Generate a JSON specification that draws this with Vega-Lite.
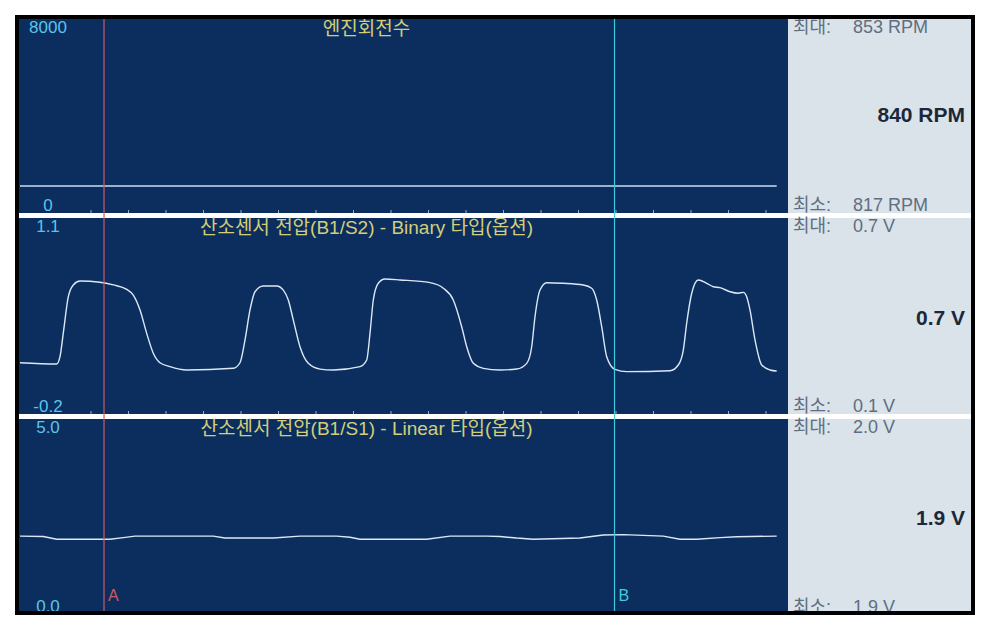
{
  "$schema": "https://vega.github.io/schema/vega-lite/v6.json",
  "width": 952,
  "height": 592,
  "autosize": {"type": "none"},
  "padding": {"left": 19, "top": 19, "right": 20, "bottom": 20},
  "background": "#ffffff",
  "config": {
    "view": {"fill": "#0c2e5e", "stroke": "#000000", "strokeWidth": 8},
    "text": {"font": "'Liberation Sans', 'Noto Sans CJK KR'", "fontSize": 17}
  },
  "datasets": {
    "panels": [
      {"id": "rpm", "top": 8000, "bottom": 0, "topLabel": "8000", "bottomLabel": "0", "title": "엔진회전수", "maxLabel": "최대:", "maxValue": "853 RPM", "minLabel": "최소:", "minValue": "817 RPM", "current": "840 RPM"},
      {"id": "s2", "top": 1.1, "bottom": -0.2, "topLabel": "1.1", "bottomLabel": "-0.2", "title": "산소센서 전압(B1/S2) - Binary 타입(옵션)", "maxLabel": "최대:", "maxValue": "0.7 V", "minLabel": "최소:", "minValue": "0.1 V", "current": "0.7 V"},
      {"id": "s1", "top": 5.0, "bottom": 0.0, "topLabel": "5.0", "bottomLabel": "0.0", "title": "산소센서 전압(B1/S1) - Linear 타입(옵션)", "maxLabel": "최대:", "maxValue": "2.0 V", "minLabel": "최소:", "minValue": "1.9 V", "current": "1.9 V"}
    ],
    "rpm": [
      {"t": -1.893, "rpm": 840}, {"t": 0, "rpm": 841}, {"t": 2, "rpm": 839}, {"t": 4, "rpm": 842},
      {"t": 6, "rpm": 838}, {"t": 8, "rpm": 840}, {"t": 10, "rpm": 843}, {"t": 12, "rpm": 837},
      {"t": 14, "rpm": 840}, {"t": 16, "rpm": 841}, {"t": 18.285, "rpm": 839}
    ],
    "s2": [
      {"t": -1.893, "v": 0.140}, {"t": -0.915, "v": 0.132}, {"t": -0.827, "v": 0.180}, {"t": -0.739, "v": 0.337},
      {"t": -0.605, "v": 0.578}, {"t": -0.472, "v": 0.656}, {"t": -0.293, "v": 0.682}, {"t": 0.240, "v": 0.674},
      {"t": 0.595, "v": 0.656}, {"t": 0.952, "v": 0.627}, {"t": 1.128, "v": 0.589}, {"t": 1.307, "v": 0.490},
      {"t": 1.485, "v": 0.335}, {"t": 1.661, "v": 0.203}, {"t": 1.840, "v": 0.140}, {"t": 2.107, "v": 0.114},
      {"t": 2.552, "v": 0.092}, {"t": 3.795, "v": 0.103}, {"t": 3.973, "v": 0.140}, {"t": 4.107, "v": 0.291},
      {"t": 4.240, "v": 0.490}, {"t": 4.373, "v": 0.611}, {"t": 4.595, "v": 0.649}, {"t": 4.952, "v": 0.649},
      {"t": 5.128, "v": 0.622}, {"t": 5.261, "v": 0.556}, {"t": 5.395, "v": 0.423}, {"t": 5.573, "v": 0.246},
      {"t": 5.795, "v": 0.136}, {"t": 6.107, "v": 0.098}, {"t": 6.461, "v": 0.092}, {"t": 7.173, "v": 0.114},
      {"t": 7.352, "v": 0.158}, {"t": 7.440, "v": 0.335}, {"t": 7.528, "v": 0.556}, {"t": 7.661, "v": 0.667},
      {"t": 7.840, "v": 0.695}, {"t": 8.240, "v": 0.689}, {"t": 9.040, "v": 0.671}, {"t": 9.395, "v": 0.634},
      {"t": 9.661, "v": 0.556}, {"t": 9.885, "v": 0.379}, {"t": 10.019, "v": 0.246}, {"t": 10.195, "v": 0.136},
      {"t": 10.461, "v": 0.103}, {"t": 10.907, "v": 0.092}, {"t": 11.352, "v": 0.098}, {"t": 11.619, "v": 0.136},
      {"t": 11.752, "v": 0.246}, {"t": 11.840, "v": 0.445}, {"t": 11.973, "v": 0.622}, {"t": 12.152, "v": 0.671},
      {"t": 12.595, "v": 0.667}, {"t": 13.128, "v": 0.656}, {"t": 13.352, "v": 0.634}, {"t": 13.485, "v": 0.556},
      {"t": 13.619, "v": 0.379}, {"t": 13.752, "v": 0.180}, {"t": 13.973, "v": 0.096}, {"t": 14.285, "v": 0.081},
      {"t": 15.440, "v": 0.087}, {"t": 15.661, "v": 0.125}, {"t": 15.795, "v": 0.224}, {"t": 15.885, "v": 0.402},
      {"t": 16.019, "v": 0.601}, {"t": 16.195, "v": 0.689}, {"t": 16.419, "v": 0.667}, {"t": 16.595, "v": 0.644},
      {"t": 16.773, "v": 0.638}, {"t": 17.040, "v": 0.611}, {"t": 17.261, "v": 0.601}, {"t": 17.395, "v": 0.607},
      {"t": 17.485, "v": 0.578}, {"t": 17.573, "v": 0.490}, {"t": 17.707, "v": 0.291}, {"t": 17.885, "v": 0.125},
      {"t": 18.107, "v": 0.092}, {"t": 18.285, "v": 0.085}
    ],
    "s1": [
      {"t": -1.893, "v": 1.95}, {"t": -1.272, "v": 1.94}, {"t": -0.915, "v": 1.87}, {"t": 0.507, "v": 1.87},
      {"t": 0.861, "v": 1.91}, {"t": 1.173, "v": 1.95}, {"t": 3.261, "v": 1.95}, {"t": 3.573, "v": 1.90},
      {"t": 4.861, "v": 1.90}, {"t": 5.573, "v": 1.95}, {"t": 6.552, "v": 1.95}, {"t": 6.907, "v": 1.92},
      {"t": 7.173, "v": 1.87}, {"t": 8.952, "v": 1.87}, {"t": 9.573, "v": 1.95}, {"t": 10.552, "v": 1.95},
      {"t": 10.907, "v": 1.94}, {"t": 11.352, "v": 1.90}, {"t": 11.795, "v": 1.87}, {"t": 13.040, "v": 1.90},
      {"t": 13.661, "v": 1.98}, {"t": 14.195, "v": 1.99}, {"t": 15.261, "v": 1.95}, {"t": 15.707, "v": 1.87},
      {"t": 16.152, "v": 1.87}, {"t": 16.773, "v": 1.91}, {"t": 17.219, "v": 1.935}, {"t": 18.285, "v": 1.95}
    ],
    "ticks": [
      {"t": 0}, {"t": 1}, {"t": 2}, {"t": 3}, {"t": 4}, {"t": 5}, {"t": 6}, {"t": 7}, {"t": 8}, {"t": 9},
      {"t": 10}, {"t": 11}, {"t": 12}, {"t": 13}, {"t": 14}, {"t": 15}, {"t": 16}, {"t": 17}, {"t": 18}
    ],
    "cursors": [
      {"id": "A", "t": 0.347},
      {"id": "B", "t": 13.96}
    ]
  },
  "resolve": {"scale": {"y": "independent"}},
  "layer": [
    {
      "data": {"name": "panels"},
      "transform": [{"filter": "datum.id === 'rpm'"}],
      "layer": [
        {
          "mark": {"type": "rect", "color": "#0c2e5e", "clip": true},
          "encoding": {
            "x": {"datum": -1.92, "type": "quantitative", "scale": {"domain": [-1.92, 23.4667], "nice": false, "zero": false}, "axis": null},
            "x2": {"datum": 18.5867}
          }
        },
        {
          "mark": {"type": "rect", "color": "#dae2ea", "clip": true},
          "encoding": {
            "x": {"datum": 18.5867, "type": "quantitative", "scale": {"domain": [-1.92, 23.4667], "nice": false, "zero": false}, "axis": null},
            "x2": {"datum": 23.4667}
          }
        }
      ]
    },
    {
      "data": {"name": "panels"},
      "transform": [{"filter": "datum.id === 'rpm'"}, {"calculate": "(datum.top + datum.bottom) / 2", "as": "mid"}],
      "layer": [
        {
          "data": {"name": "rpm"},
          "mark": {"type": "line", "color": "#cadcf2", "strokeWidth": 1.4, "clip": true},
          "encoding": {
            "x": {"field": "t", "type": "quantitative", "scale": {"domain": [-1.92, 23.4667], "nice": false, "zero": false}, "axis": null},
            "y": {"field": "rpm", "type": "quantitative", "scale": {"domain": [-17381.4, 8000], "nice": false, "zero": false}, "axis": null}
          }
        },
        {
          "data": {"name": "ticks"},
          "mark": {"type": "tick", "orient": "vertical", "size": 6, "thickness": 1, "color": "#d8e4f2", "clip": true},
          "encoding": {
            "x": {"field": "t", "type": "quantitative", "scale": {"domain": [-1.92, 23.4667], "nice": false, "zero": false}, "axis": null},
            "y": {"datum": -317.6, "type": "quantitative", "scale": {"domain": [-17381.4, 8000], "nice": false, "zero": false}, "axis": null}
          }
        },
        {
          "mark": {"type": "text", "align": "center", "baseline": "top", "dy": 1, "color": "#5ac4ec", "clip": true},
          "encoding": {
            "x": {"datum": -1.147, "type": "quantitative", "scale": {"domain": [-1.92, 23.4667], "nice": false, "zero": false}, "axis": null},
            "y": {"field": "top", "type": "quantitative", "scale": {"domain": [-17381.4, 8000], "nice": false, "zero": false}, "axis": null},
            "text": {"field": "topLabel"}
          }
        },
        {
          "mark": {"type": "text", "align": "center", "baseline": "middle", "color": "#5ac4ec", "clip": true},
          "encoding": {
            "x": {"datum": -1.147, "type": "quantitative", "scale": {"domain": [-1.92, 23.4667], "nice": false, "zero": false}, "axis": null},
            "y": {"field": "bottom", "type": "quantitative", "scale": {"domain": [-17381.4, 8000], "nice": false, "zero": false}, "axis": null},
            "text": {"field": "bottomLabel"}
          }
        },
        {
          "mark": {"type": "text", "align": "center", "baseline": "top", "dy": 1, "fontSize": 19, "color": "#d2cf78", "clip": true},
          "encoding": {
            "x": {"datum": 7.347, "type": "quantitative", "scale": {"domain": [-1.92, 23.4667], "nice": false, "zero": false}, "axis": null},
            "y": {"field": "top", "type": "quantitative", "scale": {"domain": [-17381.4, 8000], "nice": false, "zero": false}, "axis": null},
            "text": {"field": "title"}
          }
        },
        {
          "mark": {"type": "text", "align": "left", "baseline": "top", "fontSize": 18, "color": "#5f6f80", "clip": true},
          "encoding": {
            "x": {"datum": 18.72, "type": "quantitative", "scale": {"domain": [-1.92, 23.4667], "nice": false, "zero": false}, "axis": null},
            "y": {"field": "top", "type": "quantitative", "scale": {"domain": [-17381.4, 8000], "nice": false, "zero": false}, "axis": null},
            "text": {"field": "maxLabel"}
          }
        },
        {
          "mark": {"type": "text", "align": "left", "baseline": "top", "fontSize": 18, "color": "#5f6f80", "clip": true},
          "encoding": {
            "x": {"datum": 20.32, "type": "quantitative", "scale": {"domain": [-1.92, 23.4667], "nice": false, "zero": false}, "axis": null},
            "y": {"field": "top", "type": "quantitative", "scale": {"domain": [-17381.4, 8000], "nice": false, "zero": false}, "axis": null},
            "text": {"field": "maxValue"}
          }
        },
        {
          "mark": {"type": "text", "align": "left", "baseline": "middle", "fontSize": 18, "color": "#5f6f80", "clip": true},
          "encoding": {
            "x": {"datum": 18.72, "type": "quantitative", "scale": {"domain": [-1.92, 23.4667], "nice": false, "zero": false}, "axis": null},
            "y": {"field": "bottom", "type": "quantitative", "scale": {"domain": [-17381.4, 8000], "nice": false, "zero": false}, "axis": null},
            "text": {"field": "minLabel"}
          }
        },
        {
          "mark": {"type": "text", "align": "left", "baseline": "middle", "fontSize": 18, "color": "#5f6f80", "clip": true},
          "encoding": {
            "x": {"datum": 20.32, "type": "quantitative", "scale": {"domain": [-1.92, 23.4667], "nice": false, "zero": false}, "axis": null},
            "y": {"field": "bottom", "type": "quantitative", "scale": {"domain": [-17381.4, 8000], "nice": false, "zero": false}, "axis": null},
            "text": {"field": "minValue"}
          }
        },
        {
          "mark": {"type": "text", "align": "right", "baseline": "middle", "dy": 4, "fontSize": 21, "fontWeight": "bold", "color": "#1c2838", "clip": true},
          "encoding": {
            "x": {"datum": 23.307, "type": "quantitative", "scale": {"domain": [-1.92, 23.4667], "nice": false, "zero": false}, "axis": null},
            "y": {"field": "mid", "type": "quantitative", "scale": {"domain": [-17381.4, 8000], "nice": false, "zero": false}, "axis": null},
            "text": {"field": "current"}
          }
        }
      ]
    },
    {
      "data": {"name": "panels"},
      "transform": [{"filter": "datum.id === 's2'"}, {"calculate": "(datum.top + datum.bottom) / 2", "as": "mid"}],
      "layer": [
        {
          "mark": {"type": "rect", "color": "#ffffff", "clip": true},
          "encoding": {
            "y": {"datum": 1.1, "type": "quantitative", "scale": {"domain": [-1.50664, 2.4199], "nice": false, "zero": false}, "axis": null},
            "y2": {"datum": 1.1332}
          }
        },
        {
          "data": {"name": "s2"},
          "mark": {"type": "line", "color": "#dce8f6", "strokeWidth": 1.4, "interpolate": "monotone", "clip": true},
          "encoding": {
            "x": {"field": "t", "type": "quantitative", "scale": {"domain": [-1.92, 23.4667], "nice": false, "zero": false}, "axis": null},
            "y": {"field": "v", "type": "quantitative", "scale": {"domain": [-1.50664, 2.4199], "nice": false, "zero": false}, "axis": null}
          }
        },
        {
          "data": {"name": "ticks"},
          "mark": {"type": "tick", "orient": "vertical", "size": 6, "thickness": 1, "color": "#d8e4f2", "clip": true},
          "encoding": {
            "x": {"field": "t", "type": "quantitative", "scale": {"domain": [-1.92, 23.4667], "nice": false, "zero": false}, "axis": null},
            "y": {"datum": -0.2, "type": "quantitative", "scale": {"domain": [-1.50664, 2.4199], "nice": false, "zero": false}, "axis": null}
          }
        },
        {
          "mark": {"type": "text", "align": "center", "baseline": "top", "dy": 1, "color": "#5ac4ec", "clip": true},
          "encoding": {
            "x": {"datum": -1.147, "type": "quantitative", "scale": {"domain": [-1.92, 23.4667], "nice": false, "zero": false}, "axis": null},
            "y": {"field": "top", "type": "quantitative", "scale": {"domain": [-1.50664, 2.4199], "nice": false, "zero": false}, "axis": null},
            "text": {"field": "topLabel"}
          }
        },
        {
          "mark": {"type": "text", "align": "center", "baseline": "alphabetic", "dy": -2, "color": "#5ac4ec", "clip": true},
          "encoding": {
            "x": {"datum": -1.147, "type": "quantitative", "scale": {"domain": [-1.92, 23.4667], "nice": false, "zero": false}, "axis": null},
            "y": {"field": "bottom", "type": "quantitative", "scale": {"domain": [-1.50664, 2.4199], "nice": false, "zero": false}, "axis": null},
            "text": {"field": "bottomLabel"}
          }
        },
        {
          "mark": {"type": "text", "align": "center", "baseline": "top", "dy": 1, "fontSize": 19, "color": "#d2cf78", "clip": true},
          "encoding": {
            "x": {"datum": 7.347, "type": "quantitative", "scale": {"domain": [-1.92, 23.4667], "nice": false, "zero": false}, "axis": null},
            "y": {"field": "top", "type": "quantitative", "scale": {"domain": [-1.50664, 2.4199], "nice": false, "zero": false}, "axis": null},
            "text": {"field": "title"}
          }
        },
        {
          "mark": {"type": "text", "align": "left", "baseline": "top", "fontSize": 18, "color": "#5f6f80", "clip": true},
          "encoding": {
            "x": {"datum": 18.72, "type": "quantitative", "scale": {"domain": [-1.92, 23.4667], "nice": false, "zero": false}, "axis": null},
            "y": {"field": "top", "type": "quantitative", "scale": {"domain": [-1.50664, 2.4199], "nice": false, "zero": false}, "axis": null},
            "text": {"field": "maxLabel"}
          }
        },
        {
          "mark": {"type": "text", "align": "left", "baseline": "top", "fontSize": 18, "color": "#5f6f80", "clip": true},
          "encoding": {
            "x": {"datum": 20.32, "type": "quantitative", "scale": {"domain": [-1.92, 23.4667], "nice": false, "zero": false}, "axis": null},
            "y": {"field": "top", "type": "quantitative", "scale": {"domain": [-1.50664, 2.4199], "nice": false, "zero": false}, "axis": null},
            "text": {"field": "maxValue"}
          }
        },
        {
          "mark": {"type": "text", "align": "left", "baseline": "alphabetic", "dy": -2, "fontSize": 18, "color": "#5f6f80", "clip": true},
          "encoding": {
            "x": {"datum": 18.72, "type": "quantitative", "scale": {"domain": [-1.92, 23.4667], "nice": false, "zero": false}, "axis": null},
            "y": {"field": "bottom", "type": "quantitative", "scale": {"domain": [-1.50664, 2.4199], "nice": false, "zero": false}, "axis": null},
            "text": {"field": "minLabel"}
          }
        },
        {
          "mark": {"type": "text", "align": "left", "baseline": "alphabetic", "dy": -2, "fontSize": 18, "color": "#5f6f80", "clip": true},
          "encoding": {
            "x": {"datum": 20.32, "type": "quantitative", "scale": {"domain": [-1.92, 23.4667], "nice": false, "zero": false}, "axis": null},
            "y": {"field": "bottom", "type": "quantitative", "scale": {"domain": [-1.50664, 2.4199], "nice": false, "zero": false}, "axis": null},
            "text": {"field": "minValue"}
          }
        },
        {
          "mark": {"type": "text", "align": "right", "baseline": "middle", "dy": 3, "fontSize": 21, "fontWeight": "bold", "color": "#1c2838", "clip": true},
          "encoding": {
            "x": {"datum": 23.307, "type": "quantitative", "scale": {"domain": [-1.92, 23.4667], "nice": false, "zero": false}, "axis": null},
            "y": {"field": "mid", "type": "quantitative", "scale": {"domain": [-1.50664, 2.4199], "nice": false, "zero": false}, "axis": null},
            "text": {"field": "current"}
          }
        }
      ]
    },
    {
      "data": {"name": "panels"},
      "transform": [{"filter": "datum.id === 's1'"}, {"calculate": "(datum.top + datum.bottom) / 2", "as": "mid"}],
      "layer": [
        {
          "mark": {"type": "rect", "color": "#ffffff", "clip": true},
          "encoding": {
            "y": {"datum": 5.0, "type": "quantitative", "scale": {"domain": [0, 15.4167], "nice": false, "zero": false}, "axis": null},
            "y2": {"datum": 5.1302}
          }
        },
        {
          "data": {"name": "s1"},
          "mark": {"type": "line", "color": "#dce8f6", "strokeWidth": 1.4, "clip": true},
          "encoding": {
            "x": {"field": "t", "type": "quantitative", "scale": {"domain": [-1.92, 23.4667], "nice": false, "zero": false}, "axis": null},
            "y": {"field": "v", "type": "quantitative", "scale": {"domain": [0, 15.4167], "nice": false, "zero": false}, "axis": null}
          }
        },
        {
          "mark": {"type": "text", "align": "center", "baseline": "top", "dy": 1, "color": "#5ac4ec", "clip": true},
          "encoding": {
            "x": {"datum": -1.147, "type": "quantitative", "scale": {"domain": [-1.92, 23.4667], "nice": false, "zero": false}, "axis": null},
            "y": {"field": "top", "type": "quantitative", "scale": {"domain": [0, 15.4167], "nice": false, "zero": false}, "axis": null},
            "text": {"field": "topLabel"}
          }
        },
        {
          "mark": {"type": "text", "align": "center", "baseline": "alphabetic", "dy": 1, "color": "#5ac4ec", "clip": true},
          "encoding": {
            "x": {"datum": -1.147, "type": "quantitative", "scale": {"domain": [-1.92, 23.4667], "nice": false, "zero": false}, "axis": null},
            "y": {"field": "bottom", "type": "quantitative", "scale": {"domain": [0, 15.4167], "nice": false, "zero": false}, "axis": null},
            "text": {"field": "bottomLabel"}
          }
        },
        {
          "mark": {"type": "text", "align": "center", "baseline": "top", "dy": 1, "fontSize": 19, "color": "#d2cf78", "clip": true},
          "encoding": {
            "x": {"datum": 7.347, "type": "quantitative", "scale": {"domain": [-1.92, 23.4667], "nice": false, "zero": false}, "axis": null},
            "y": {"field": "top", "type": "quantitative", "scale": {"domain": [0, 15.4167], "nice": false, "zero": false}, "axis": null},
            "text": {"field": "title"}
          }
        },
        {
          "mark": {"type": "text", "align": "left", "baseline": "top", "fontSize": 18, "color": "#5f6f80", "clip": true},
          "encoding": {
            "x": {"datum": 18.72, "type": "quantitative", "scale": {"domain": [-1.92, 23.4667], "nice": false, "zero": false}, "axis": null},
            "y": {"field": "top", "type": "quantitative", "scale": {"domain": [0, 15.4167], "nice": false, "zero": false}, "axis": null},
            "text": {"field": "maxLabel"}
          }
        },
        {
          "mark": {"type": "text", "align": "left", "baseline": "top", "fontSize": 18, "color": "#5f6f80", "clip": true},
          "encoding": {
            "x": {"datum": 20.32, "type": "quantitative", "scale": {"domain": [-1.92, 23.4667], "nice": false, "zero": false}, "axis": null},
            "y": {"field": "top", "type": "quantitative", "scale": {"domain": [0, 15.4167], "nice": false, "zero": false}, "axis": null},
            "text": {"field": "maxValue"}
          }
        },
        {
          "mark": {"type": "text", "align": "left", "baseline": "alphabetic", "dy": 2, "fontSize": 18, "color": "#5f6f80", "clip": true},
          "encoding": {
            "x": {"datum": 18.72, "type": "quantitative", "scale": {"domain": [-1.92, 23.4667], "nice": false, "zero": false}, "axis": null},
            "y": {"field": "bottom", "type": "quantitative", "scale": {"domain": [0, 15.4167], "nice": false, "zero": false}, "axis": null},
            "text": {"field": "minLabel"}
          }
        },
        {
          "mark": {"type": "text", "align": "left", "baseline": "alphabetic", "dy": 2, "fontSize": 18, "color": "#5f6f80", "clip": true},
          "encoding": {
            "x": {"datum": 20.32, "type": "quantitative", "scale": {"domain": [-1.92, 23.4667], "nice": false, "zero": false}, "axis": null},
            "y": {"field": "bottom", "type": "quantitative", "scale": {"domain": [0, 15.4167], "nice": false, "zero": false}, "axis": null},
            "text": {"field": "minValue"}
          }
        },
        {
          "mark": {"type": "text", "align": "right", "baseline": "middle", "dy": 4, "fontSize": 21, "fontWeight": "bold", "color": "#1c2838", "clip": true},
          "encoding": {
            "x": {"datum": 23.307, "type": "quantitative", "scale": {"domain": [-1.92, 23.4667], "nice": false, "zero": false}, "axis": null},
            "y": {"field": "mid", "type": "quantitative", "scale": {"domain": [0, 15.4167], "nice": false, "zero": false}, "axis": null},
            "text": {"field": "current"}
          }
        },
        {
          "data": {"name": "cursors"},
          "mark": {"type": "rule", "strokeWidth": 1.2, "clip": true},
          "encoding": {
            "x": {"field": "t", "type": "quantitative", "scale": {"domain": [-1.92, 23.4667], "nice": false, "zero": false}, "axis": null},
            "color": {"field": "id", "type": "nominal", "scale": {"domain": ["A", "B"], "range": ["#cc5a66", "#3ccbe0"]}, "legend": null}
          }
        },
        {
          "data": {"name": "cursors"},
          "mark": {"type": "text", "align": "left", "baseline": "alphabetic", "dx": 4, "dy": -10, "fontSize": 16, "clip": true},
          "encoding": {
            "x": {"field": "t", "type": "quantitative", "scale": {"domain": [-1.92, 23.4667], "nice": false, "zero": false}, "axis": null},
            "y": {"datum": 0, "type": "quantitative", "scale": {"domain": [0, 15.4167], "nice": false, "zero": false}, "axis": null},
            "text": {"field": "id"},
            "color": {"field": "id", "type": "nominal", "scale": {"domain": ["A", "B"], "range": ["#cc5a66", "#3ccbe0"]}, "legend": null}
          }
        }
      ]
    }
  ]
}
